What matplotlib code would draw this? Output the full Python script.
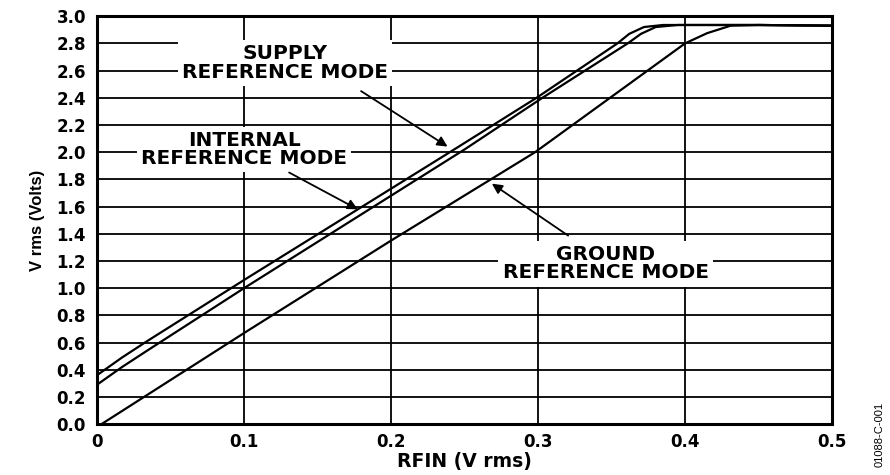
import matplotlib
matplotlib.use("Agg")
import matplotlib.pyplot as plt

# ------------------------
# Data
# ------------------------
supply_x = [0, 0.017, 0.034, 0.1, 0.24, 0.299, 0.354, 0.362, 0.372, 0.385, 0.45, 0.5]
supply_y = [0.36, 0.49, 0.61, 1.06, 2.0, 2.4, 2.8, 2.87, 2.92, 2.935, 2.935, 2.93]

internal_x = [0, 0.017, 0.034, 0.1, 0.25, 0.303, 0.361, 0.37, 0.38, 0.395, 0.45, 0.5]
internal_y = [0.29, 0.42, 0.54, 1.0, 2.02, 2.4, 2.8, 2.87, 2.92, 2.935, 2.935, 2.93]

ground_x = [0.003, 0.1, 0.2, 0.298, 0.4, 0.415, 0.431, 0.45, 0.5]
ground_y = [0, 0.67, 1.35, 2.0, 2.8, 2.875, 2.93, 2.935, 2.93]

x_ticks = [0, 0.1, 0.2, 0.3, 0.4, 0.5]
x_tick_labels = ["0", "0.1", "0.2", "0.3", "0.4", "0.5"]
y_ticks = [i * 0.2 for i in range(16)]
y_tick_labels = [f"{v:.1f}" for v in y_ticks]

plt.rcParams['font.family'] = ['DejaVu Sans']
plt.rcParams['font.weight'] = 'bold'

fig = plt.figure(figsize=(8.9, 4.75), dpi=100)
ax = fig.add_axes([0.109, 0.107, 0.826, 0.859])

ax.plot(supply_x, supply_y, color="black", lw=1.6, zorder=3)
ax.plot(internal_x, internal_y, color="black", lw=1.6, zorder=3)
ax.plot(ground_x, ground_y, color="black", lw=1.6, zorder=3)

ax.set_xlim(0, 0.5)
ax.set_ylim(0, 3.0)
ax.set_xticks(x_ticks)
ax.set_xticklabels(x_tick_labels, fontsize=12, fontweight="bold")
ax.set_yticks(y_ticks)
ax.set_yticklabels(y_tick_labels, fontsize=12, fontweight="bold")
ax.tick_params(axis="y", length=0, pad=8)
ax.tick_params(axis="x", length=0, pad=6)
ax.grid(True, color="black", lw=1.3)
ax.set_axisbelow(True)
for s in ax.spines.values():
    s.set_linewidth(2.2)

ax.set_xlabel("RFIN (V rms)", fontsize=13.5, fontweight="bold", labelpad=1)
ax.set_ylabel("V rms (Volts)", fontsize=12, fontweight="bold", labelpad=8,
              family="Liberation Sans")

# labels with arrows
box = dict(facecolor="white", edgecolor="none", pad=3)
arrow = dict(arrowstyle="-|>", color="black", lw=1.3, mutation_scale=15)
lab = dict(ha="center", va="center", fontsize=14.5, fontweight="bold",
           bbox=box, zorder=4, linespacing=0.95)

ax.text(0.128, 2.655, "SUPPLY\nREFERENCE MODE", **lab)
ax.annotate("", xy=(0.240, 2.03), xytext=(0.178, 2.46), arrowprops=arrow, zorder=5)

ax.text(0.10, 2.02, "INTERNAL\nREFERENCE MODE", **lab)
ax.annotate("", xy=(0.179, 1.57), xytext=(0.129, 1.86), arrowprops=arrow, zorder=5)

ax.text(0.346, 1.18, "GROUND\nREFERENCE MODE", **lab)
ax.annotate("", xy=(0.267, 1.78), xytext=(0.322, 1.375), arrowprops=arrow, zorder=5)

fig.text(0.988, 0.085, "01088-C-001", rotation=90, fontsize=8, fontweight="normal",
         ha="center", va="center", family="Liberation Sans")

fig.savefig("out.png", dpi=100)
